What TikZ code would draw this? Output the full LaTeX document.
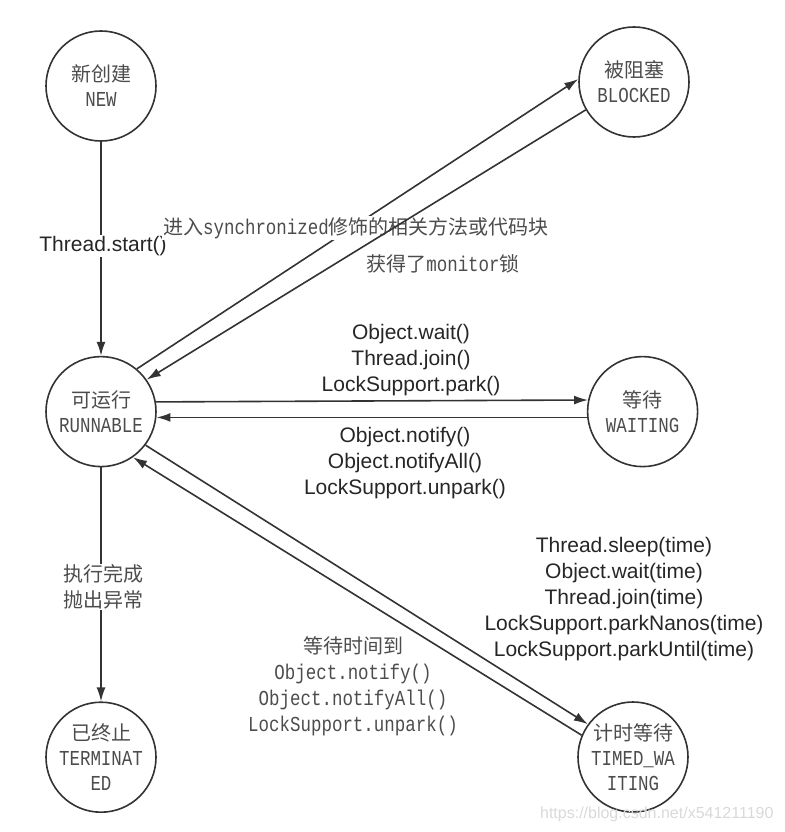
\documentclass[tikz,border=0pt]{standalone}
\usepackage{fontspec}
\setmainfont{Liberation Sans}
\setmonofont{Liberation Mono}[FakeStretch=0.82]
\newfontfamily\cjk{Noto Sans CJK SC}
\usetikzlibrary{arrows.meta,positioning}

\newcommand{\zh}[1]{{\cjk #1}}
\newcommand{\en}[1]{{\ttfamily\fontsize{21.3}{26}\selectfont #1}}

\begin{document}
\begin{tikzpicture}[x=1pt,y=-1pt,>={Latex[length=14pt,width=9pt]},
  state/.style={draw=black!80,circle,line width=1.6pt,minimum size=110pt,
    inner sep=0pt,align=center,font=\fontsize{20}{25}\selectfont,text=black!70},
  conn/.style={->,draw=black!80,line width=1.6pt},
  lbl/.style={inner sep=1pt,align=center,font=\fontsize{21}{26}\selectfont,text=black!85},
  zlbl/.style={inner sep=1pt,align=center,font=\fontsize{20}{26}\selectfont,text=black!70},
  cover/.style={fill=white}]
  \useasboundingbox (0,0) rectangle (784,832);
  % left column: new, runnable, terminated
  \node[state] (new) at (101,86) {\zh{新创建}\\\en{NEW}};
  \node[state,below=214pt of new] (run) {\zh{可运行}\\\en{RUNNABLE}};
  \node[state,below=234pt of run] (term) {\zh{已终止}\\\en{TERMINAT}\\\en{ED}};
  % right column: blocked, waiting, timed waiting
  \node[state] (blk) at (634,82) {\zh{被阻塞}\\\en{BLOCKED}};
  \node[state,right=430pt of run] (wait) {\zh{等待}\\\en{WAITING}};
  \node[state] (timed) at (633,757) {\zh{计时等待}\\\en{TIMED\_WA}\\\en{ITING}};
  % transitions (those running under a label first)
  \draw[conn] (new) -- (run);
  \draw[conn] (run.50) -- (blk.177);
  \draw[conn] (run.10) -- (wait.168);
  \draw[conn] (wait.186) -- (run.-6);
  \draw[conn] (run) -- (term);
  \draw[conn] (run.-37) -- (timed.144);
  \draw[conn] (timed.157) -- (run.-55);
  % labels
  \node[lbl,cover] (startlbl) at (103,246) {Thread.start()};
  \node[zlbl,cover] (synclbl) at (356,228) {\zh{进入}\en{synchronized}\zh{修饰的相关方法或代码块}};
  \node[zlbl] (monlbl) at (443,264) {\zh{获得了}\en{monitor}\zh{锁}};
  \node[lbl] (waitlbl) at (411,360) {Object.wait()\\Thread.join()\\LockSupport.park()};
  \node[lbl] (notlbl) at (405,463) {Object.notify()\\Object.notifyAll()\\LockSupport.unpark()};
  \node[zlbl,cover] (endlbl) at (103,587) {\zh{执行完成}\\\zh{抛出异常}};
  \node[lbl] (timedlbl) at (624,599) {Thread.sleep(time)\\Object.wait(time)\\Thread.join(time)\\LockSupport.parkNanos(time)\\LockSupport.parkUntil(time)};
  \node[zlbl] (backlbl) at (353,686) {\zh{等待时间到}\\\en{Object.notify()}\\\en{Object.notifyAll()}\\\en{LockSupport.unpark()}};
  \node[anchor=east,text=black!15,font=\fontsize{16}{20}\selectfont] (mark) at (777,814) {https://blog.csdn.net/x541211190};
  % this one runs over the label text
  \draw[conn] (blk.210) -- (run.35);
\end{tikzpicture}
\end{document}
